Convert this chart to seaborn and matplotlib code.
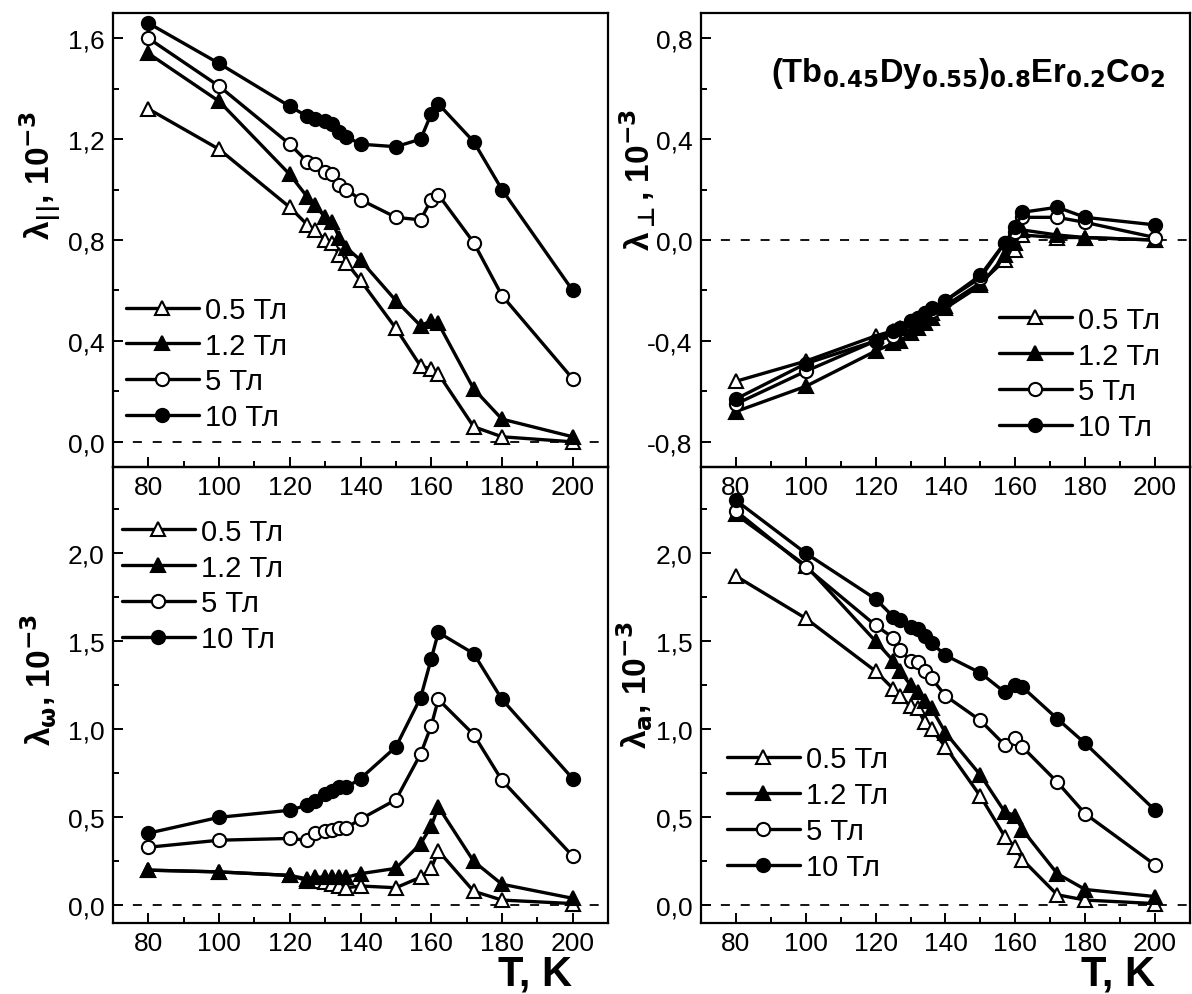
import matplotlib
matplotlib.use("Agg")
import matplotlib.pyplot as plt
from matplotlib.ticker import MultipleLocator, FuncFormatter
import seaborn as sns

# --- data (T in K, lambda in 1e-3) ---
T = [80, 100, 120, 125, 127, 130, 132, 134, 136, 140, 150, 157, 160, 162, 172, 180, 200]
fields = ["0.5 Тл", "1.2 Тл", "5 Тл", "10 Тл"]

# lambda_parallel
lpar_05 = [1.32, 1.16, 0.93, 0.86, 0.84, 0.80, 0.79, 0.74, 0.71, 0.64, 0.45, 0.30, 0.29, 0.27, 0.06, 0.02, 0.00]
lpar_12 = [1.54, 1.35, 1.06, 0.97, 0.94, 0.89, 0.87, 0.81, 0.77, 0.72, 0.56, 0.46, 0.48, 0.47, 0.21, 0.09, 0.02]
lpar_5 = [1.60, 1.41, 1.18, 1.11, 1.10, 1.07, 1.06, 1.02, 1.00, 0.96, 0.89, 0.88, 0.96, 0.98, 0.79, 0.58, 0.25]
lpar_10 = [1.66, 1.50, 1.33, 1.29, 1.28, 1.27, 1.26, 1.23, 1.21, 1.18, 1.17, 1.20, 1.30, 1.34, 1.19, 1.00, 0.60]

# lambda_perp
lperp_05 = [-0.56, -0.48, -0.38, -0.36, -0.35, -0.33, -0.32, -0.30, -0.29, -0.26, -0.17, -0.08, -0.04, 0.02, 0.01, 0.01, 0.00]
lperp_12 = [-0.68, -0.58, -0.44, -0.41, -0.40, -0.37, -0.35, -0.33, -0.31, -0.27, -0.18, -0.06, -0.01, 0.04, 0.02, 0.01, 0.00]
lperp_5 = [-0.65, -0.52, -0.40, -0.38, -0.35, -0.32, -0.31, -0.29, -0.28, -0.24, -0.15, -0.01, 0.03, 0.09, 0.09, 0.07, 0.01]
lperp_10 = [-0.63, -0.49, -0.40, -0.36, -0.35, -0.32, -0.31, -0.29, -0.27, -0.24, -0.14, -0.01, 0.05, 0.11, 0.13, 0.09, 0.06]

# lambda_omega
lom_05 = [0.20, 0.19, 0.17, 0.14, 0.14, 0.13, 0.12, 0.11, 0.10, 0.11, 0.10, 0.16, 0.21, 0.31, 0.08, 0.03, 0.01]
lom_12 = [0.20, 0.19, 0.17, 0.15, 0.16, 0.16, 0.16, 0.16, 0.16, 0.18, 0.21, 0.35, 0.45, 0.56, 0.25, 0.12, 0.04]
lom_5 = [0.33, 0.37, 0.38, 0.37, 0.41, 0.42, 0.43, 0.44, 0.44, 0.49, 0.60, 0.86, 1.02, 1.17, 0.97, 0.71, 0.28]
lom_10 = [0.41, 0.50, 0.54, 0.57, 0.59, 0.63, 0.65, 0.67, 0.67, 0.72, 0.90, 1.18, 1.40, 1.55, 1.43, 1.17, 0.72]

# lambda_a
la_05 = [1.87, 1.63, 1.33, 1.23, 1.19, 1.13, 1.12, 1.04, 1.00, 0.90, 0.62, 0.39, 0.33, 0.26, 0.06, 0.03, 0.01]
la_12 = [2.22, 1.93, 1.50, 1.39, 1.33, 1.25, 1.21, 1.16, 1.12, 0.98, 0.74, 0.53, 0.51, 0.43, 0.18, 0.09, 0.05]
la_5 = [2.24, 1.92, 1.59, 1.52, 1.45, 1.39, 1.38, 1.33, 1.29, 1.19, 1.05, 0.91, 0.95, 0.90, 0.70, 0.52, 0.23]
la_10 = [2.30, 2.00, 1.74, 1.64, 1.62, 1.58, 1.57, 1.53, 1.49, 1.42, 1.32, 1.21, 1.25, 1.24, 1.06, 0.92, 0.54]

title = "(Tb$_{0.45}$Dy$_{0.55}$)$_{0.8}$Er$_{0.2}$Co$_{2}$"

# --- style ---
sns.set_theme(style="ticks")
plt.rcParams["font.family"] = ["Liberation Sans", "DejaVu Sans"]
plt.rcParams["mathtext.fontset"] = "custom"
plt.rcParams["mathtext.bf"] = "DejaVu Sans:bold"
plt.rcParams["mathtext.rm"] = "DejaVu Sans"
plt.rcParams["mathtext.default"] = "bf"
plt.rcParams["text.color"] = "black"
plt.rcParams["axes.labelcolor"] = "black"

marker_styles = [("^", "white"), ("^", "black"), ("o", "white"), ("o", "black")]


def comma_fmt(v, pos):
    if abs(v) < 1e-9:
        v = 0.0
    return f"{v:.1f}".replace(".", ",")


panels = [
    # position, series, ylim, major, minor, ylabel, label coords, legend anchor
    dict(rect=[0.0948, 0.5296, 0.4153, 0.4563],
         series=[lpar_05, lpar_12, lpar_5, lpar_10],
         ylim=(-0.1, 1.7), major=0.4, minor=0.2,
         ylabel="λ$_{||}$, 10$^{-3}$", lab=(-0.104, 0.645), leg=(0.026, 0.228)),
    dict(rect=[0.5881, 0.5296, 0.4102, 0.4563],
         series=[lperp_05, lperp_12, lperp_5, lperp_10],
         ylim=(-0.9, 0.9), major=0.4, minor=0.2,
         ylabel="λ$_{\\bot}$, 10$^{-3}$", lab=(-0.088, 0.634), leg=(0.609, 0.206)),
    dict(rect=[0.0948, 0.0714, 0.4153, 0.4583],
         series=[lom_05, lom_12, lom_5, lom_10],
         ylim=(-0.1, 2.49), major=0.5, minor=0.25,
         ylabel="λ$_{ω}$, 10$^{-3}$", lab=(-0.110, 0.536), leg=(0.018, 0.740)),
    dict(rect=[0.5881, 0.0714, 0.4102, 0.4583],
         series=[la_05, la_12, la_5, la_10],
         ylim=(-0.1, 2.49), major=0.5, minor=0.25,
         ylabel="λ$_{a}$, 10$^{-3}$", lab=(-0.094, 0.523), leg=(0.053, 0.241)),
]

fig = plt.figure(figsize=(11.92, 9.95), dpi=100)

for i, p in enumerate(panels):
    ax = fig.add_axes(p["rect"])
    # top panels stay above so their x tick labels show over the lower panels
    ax.set_zorder(2 if i < 2 else 1)
    ax.patch.set_alpha(0)
    ax.axhline(0, color="black", lw=1.3, ls=(0, (5, 6)), zorder=1)

    for vals, (mk, fc), name in zip(p["series"], marker_styles, fields):
        sns.lineplot(x=T, y=vals, ax=ax, color="black", lw=2.4, marker=mk,
                     markersize=9.5, markerfacecolor=fc, markeredgecolor="black",
                     markeredgewidth=1.5, label=name, errorbar=None, legend=False)

    ax.set_xlim(70, 210)
    ax.set_ylim(*p["ylim"])
    ax.xaxis.set_major_locator(MultipleLocator(20))
    ax.xaxis.set_minor_locator(MultipleLocator(10))
    ax.yaxis.set_major_locator(MultipleLocator(p["major"]))
    ax.yaxis.set_minor_locator(MultipleLocator(p["minor"]))
    ax.yaxis.set_major_formatter(FuncFormatter(comma_fmt))
    ax.tick_params(which="both", direction="in", top=False, right=False,
                   colors="black", labelsize=19, width=1.4)
    ax.tick_params(which="major", length=7, pad=6)
    ax.tick_params(which="minor", length=4)
    for s in ax.spines.values():
        s.set_color("black")
        s.set_linewidth(1.6)

    ax.set_ylabel(p["ylabel"], fontsize=24, fontweight="bold", color="black")
    ax.yaxis.set_label_coords(*p["lab"])

    ax.legend(loc="center left", bbox_to_anchor=p["leg"], frameon=False,
              borderpad=0, borderaxespad=0, handlelength=2.5,
              handletextpad=0.2, labelspacing=0.27,
              prop={"family": "Liberation Sans", "size": 21}, labelcolor="black")

    if i >= 2:
        ax.set_xlabel("T, K", fontsize=30, fontweight="bold", color="black")
        ax.xaxis.set_label_coords(0.853, -0.066)
    else:
        ax.set_xlabel("")

    if i == 1:
        ax.text(0.951, 0.85, title, transform=ax.transAxes, ha="right",
                va="baseline", fontsize=23.5, fontweight="bold", color="black")

fig.savefig("out.png", dpi=100)
